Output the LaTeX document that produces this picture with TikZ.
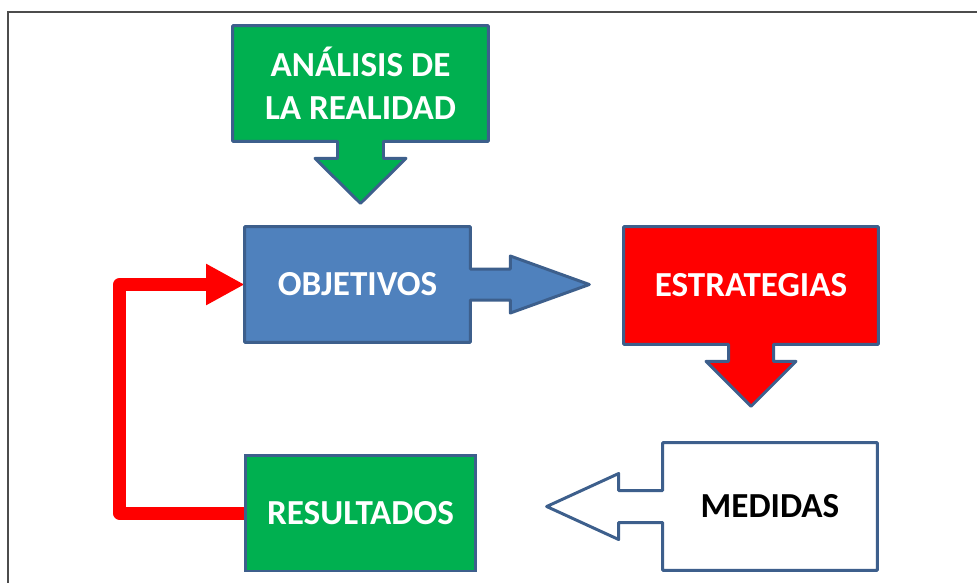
\documentclass[tikz,border=0pt]{standalone}
\usepackage{fontspec}
\setmainfont{Carlito}
\usetikzlibrary{positioning, arrows.meta, calc, backgrounds}
\definecolor{boxline}{HTML}{3D5F8C}
\definecolor{boxgreen}{HTML}{00B050}
\definecolor{boxblue}{HTML}{4F81BD}
\tikzset{
  boxtext/.style={font=\bfseries\fontsize{20}{24.4}\selectfont, text=white, align=center, inner sep=0pt},
  callout/.style={draw=boxline, line width=1.7pt, line join=round},
}
\begin{document}
\begin{tikzpicture}[x=0.02cm, y=-0.02cm]
\useasboundingbox (0,0) rectangle (977,583);
% frame
\draw[black!70, line width=1.2pt] (977,12) -- (8,12) -- (8,583);

% boxes
\node[boxtext, minimum width=5.1cm, minimum height=2.3cm] (ana) at (360.5,83.5) {ANÁLISIS DE\\LA REALIDAD};
\node[boxtext, minimum width=4.5cm, minimum height=2.3cm] (obj) at (357.5,284.5) {OBJETIVOS};
\node[boxtext, minimum width=5.08cm, minimum height=2.34cm] (est) at (751,285.5) {ESTRATEGIAS};
\node[boxtext, text=black, minimum width=4.28cm, minimum height=2.54cm] (med) at (770,506.5) {MEDIDAS};
\node[boxtext, draw=boxline, fill=boxgreen, line width=1.7pt, minimum width=4.62cm, minimum height=2.32cm] (res) at (360.5,513) {RESULTADOS};

\begin{scope}[on background layer]
% feedback
\draw[red, line width=7.4pt, line join=round, -{Triangle[length=22pt, width=22pt]}] (res.west) -- ++(-124,0) |- (obj.west);
% callouts
\draw[callout, fill=boxgreen] (ana.north west) -- (ana.north east) -- (ana.south east) -- ($(ana.south)+(23,0)$) -- ++(0,17) -- ++(22.5,0) -- ($(ana.south)+(0,62)$) -- ($(ana.south)+(-45.5,17)$) -- ++(22.5,0) -- ++(0,-17) -- (ana.south west) -- cycle;
\draw[callout, fill=boxblue] (obj.north west) -- (obj.north east) -- ($(obj.east)+(0,-15.5)$) -- ++(40,0) -- ++(0,-13) -- ($(obj.east)+(119,0)$) -- ($(obj.east)+(40,28.5)$) -- ++(0,-13) -- ($(obj.east)+(0,15.5)$) -- (obj.south east) -- (obj.south west) -- cycle;
\draw[callout, fill=red] (est.north west) -- (est.north east) -- (est.south east) -- ($(est.south)+(22.5,0)$) -- ++(0,17) -- ++(22.5,0) -- ($(est.south)+(0,62)$) -- ($(est.south)+(-45,17)$) -- ++(22.5,0) -- ++(0,-17) -- (est.south west) -- cycle;
\draw[callout, fill=white] (med.north east) -- (med.north west) -- ($(med.west)+(0,-16)$) -- ++(-44,0) -- ++(0,-17) -- ($(med.west)+(-116,0)$) -- ($(med.west)+(-44,33)$) -- ++(0,-17) -- ($(med.west)+(0,16)$) -- (med.south west) -- (med.south east) -- cycle;
\end{scope}
\end{tikzpicture}
\end{document}
